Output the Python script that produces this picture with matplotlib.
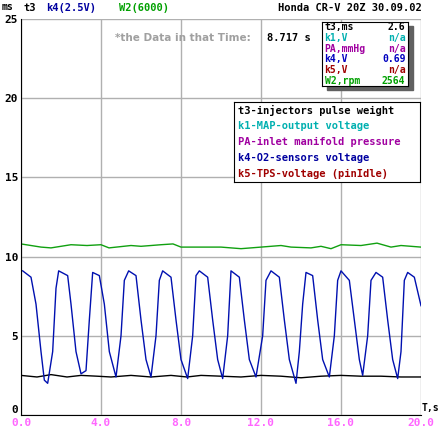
import matplotlib
matplotlib.use("Agg")
import matplotlib.pyplot as plt
import numpy as np

# blue k4 trace key points (read as pixel positions in 3x zoom, converted to time below)
k4_px = [70, 95, 110, 125, 135, 145, 160, 170, 178, 205, 215, 230, 245, 260, 270, 280,
         300, 315, 330, 350, 365, 375, 388, 410, 425, 440, 455, 470, 480, 490, 515, 530,
         545, 565, 580, 590, 600, 625, 640, 655, 670, 685, 695, 720, 735, 750, 770, 790,
         800, 815, 840, 855, 870, 890, 900, 910, 920, 940, 955, 970, 990, 1005, 1015, 1025,
         1050, 1065, 1080, 1090, 1105, 1115, 1130, 1150, 1165, 1180, 1195, 1205, 1215, 1225,
         1245, 1265]
k4_val = [9.1, 8.7, 7.0, 4.0, 2.2, 2.0, 4.0, 8.0, 9.1, 8.8, 7.0, 4.0, 2.6, 2.8, 6.0, 9.0,
          8.8, 7.0, 4.0, 2.4, 5.0, 8.5, 9.1, 8.8, 6.0, 3.5, 2.4, 5.0, 8.5, 9.1, 8.7, 6.0,
          3.5, 2.3, 5.0, 8.8, 9.1, 8.7, 6.0, 3.5, 2.3, 5.0, 9.1, 8.7, 6.0, 3.5, 2.4, 5.0,
          8.5, 9.1, 8.7, 6.0, 3.5, 2.0, 4.0, 7.0, 9.0, 8.8, 6.0, 3.5, 2.4, 5.0, 8.5, 9.1,
          8.5, 6.0, 3.5, 2.5, 5.0, 8.5, 9.0, 8.7, 6.0, 3.5, 2.3, 4.0, 8.5, 9.0, 8.7, 6.9]
k4_t = [(p - 65) / 60 for p in k4_px]

w2_t = [0, 1, 1.5, 2.5, 3.3, 4, 4.4, 5.5, 6, 7, 7.6, 8, 9, 10, 11, 12, 13, 13.5, 14.5, 15, 15.5, 16, 17, 17.8, 18.5, 19, 20]
w2_val = [10.8, 10.6, 10.55, 10.75, 10.7, 10.75, 10.55, 10.7, 10.65, 10.75, 10.8, 10.6, 10.6, 10.6, 10.5, 10.6,
          10.7, 10.6, 10.55, 10.65, 10.5, 10.75, 10.7, 10.85, 10.6, 10.7, 10.6]

t3_t = [0, 0.8, 1.5, 2.3, 3, 3.8, 4.5, 5.5, 6.5, 7.5, 8.3, 9, 10, 11, 12, 13, 14, 15, 16, 17, 18, 19, 20]
t3_val = [2.5, 2.4, 2.55, 2.4, 2.5, 2.45, 2.4, 2.5, 2.4, 2.5, 2.4, 2.5, 2.45, 2.4, 2.5, 2.45, 2.35, 2.45, 2.5, 2.45, 2.45, 2.4, 2.4]

legend_items = ["t3-injectors pulse weight", "k1-MAP-output voltage", "PA-inlet manifold pressure",
                "k4-O2-sensors voltage", "k5-TPS-voltage (pinIdle)"]
legend_colors = ["black", "#00b0b0", "#a000a0", "#0000a0", "#a00000"]
info_names = ["t3,ms", "k1,V", "PA,mmHg", "k4,V", "k5,V", "W2,rpm"]
info_vals = ["2.6", "n/a", "n/a", "0.69", "n/a", "2564"]
info_colors = ["black", "#00b0b0", "#a000a0", "#0000c0", "#a00000", "#00a000"]

plt.rcParams['font.family'] = 'DejaVu Sans Mono'
plt.rcParams['font.weight'] = 'bold'
fig = plt.figure(figsize=(4.45, 4.32), dpi=100)
ax = fig.add_axes([21 / 445, 1 - 415 / 432, 400 / 445, 396 / 432])
ax.plot(w2_t, w2_val, color="#10a010", lw=1)
ax.plot(t3_t, t3_val, color="black", lw=1)
ax.plot(k4_t, k4_val, color="#0010b0", lw=1)
ax.set_xlim(0, 20)
ax.set_ylim(0, 25)
ax.set_xticks(np.arange(0, 21, 4))
ax.set_xticklabels([f"{v:.1f}" for v in np.arange(0, 21, 4)], color="#ff66ff", fontsize=8)
ax.set_yticks([0, 5, 10, 15, 20, 25])
ax.tick_params(length=0, pad=2, labelsize=8)
ax.get_yticklabels()[0].set_va("bottom")
ax.grid(color="#b0b0b0", lw=1)
for s in ["top", "right"]:
    ax.spines[s].set_visible(False)
fig.text(2 / 445, 1 - 2 / 432, "ms", fontsize=7, va="top")
ax.text(20.05, 0.1, "T,s", fontsize=7, va="bottom", ha="left")
fig.text(24 / 445, 1 - 3 / 432, "t3", color="black", fontsize=7.5, va="top")
fig.text(46 / 445, 1 - 3 / 432, "k4(2.5V)", color="#0000a0", fontsize=7.5, va="top")
fig.text(119 / 445, 1 - 3 / 432, "W2(6000)", color="#00a000", fontsize=7.5, va="top")
fig.text(422 / 445, 1 - 3 / 432, "Honda CR-V 20Z 30.09.02", fontsize=7.5, va="top", ha="right")
ax.text(8.1, 23.6, "*the Data in that Time:", color="#a0a0a0", fontsize=7.5, family="DejaVu Sans", ha="center")
ax.text(13.4, 23.6, "8.717 s", fontsize=7.5, ha="center")

# info box with shadow
fig.patches.append(plt.Rectangle((327 / 445, 1 - 90 / 432), 86 / 445, 64 / 432,
                                 transform=fig.transFigure, color="#606060", zorder=2))
ib = fig.add_axes([322 / 445, 1 - 86 / 432, 86 / 445, 64 / 432], zorder=3)
ib.set_xticks([]); ib.set_yticks([])
for i, (n, v, c) in enumerate(zip(info_names, info_vals, info_colors)):
    y = 1 - (i + 0.5) / 6
    ib.text(0.03, y, n, color=c, fontsize=7, va="center")
    ib.text(0.97, y, v, color=c, fontsize=7, va="center", ha="right")

# legend box
lb = fig.add_axes([234 / 445, 1 - 182 / 432, 186 / 445, 80 / 432], zorder=3)
lb.set_xticks([]); lb.set_yticks([])
for i, (n, c) in enumerate(zip(legend_items, legend_colors)):
    lb.text(0.02, 1 - (i + 0.5) / 5, n, color=c, fontsize=7.5, va="center")

fig.savefig("out.png", dpi=100)
